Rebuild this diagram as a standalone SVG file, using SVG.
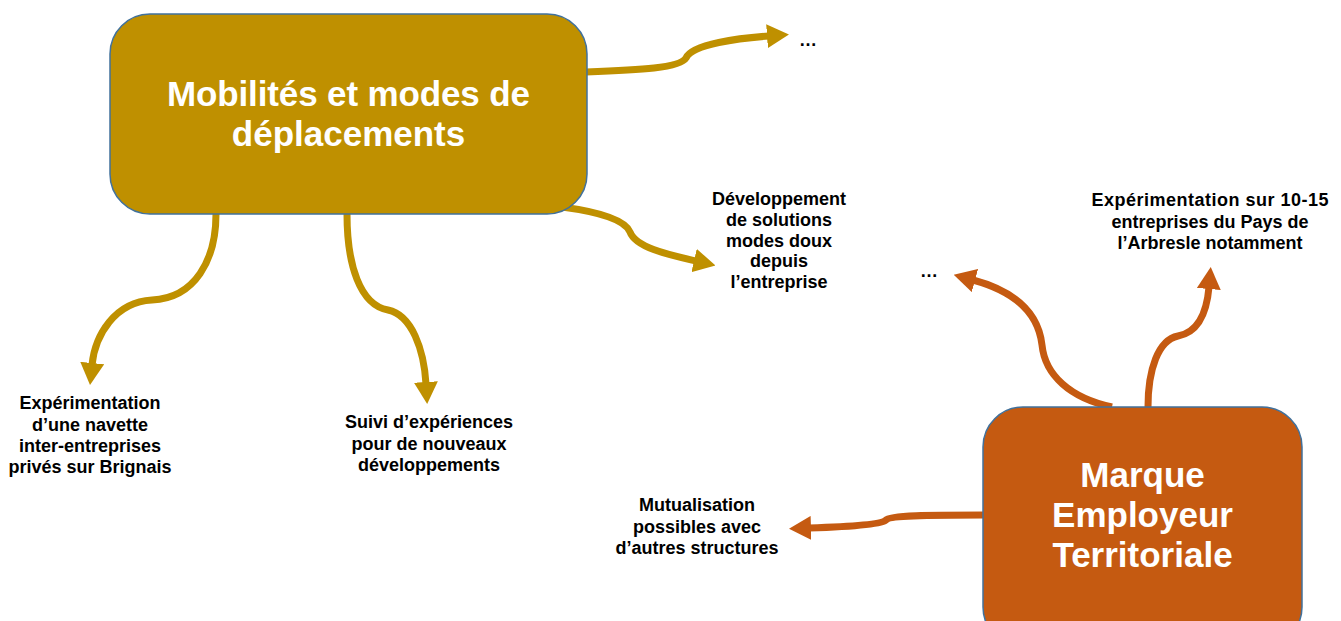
<svg xmlns="http://www.w3.org/2000/svg" width="1341" height="621" viewBox="0 0 1341 621">
<style>
.box{stroke:#41719C;stroke-width:1.5}
.t1{font-family:"Liberation Sans",Arial,sans-serif;font-weight:bold;font-size:35px;fill:#fff;text-anchor:middle}
.lb{font-family:"Liberation Sans",Arial,sans-serif;font-weight:bold;font-size:18px;fill:#000;text-anchor:middle}
.cg{fill:none;stroke:#BF9000;stroke-width:7}
.co{fill:none;stroke:#C55A11;stroke-width:7}
</style>
<defs>
<marker id="ag" viewBox="0 0 22 24" refX="2" refY="12" markerWidth="22" markerHeight="24" markerUnits="userSpaceOnUse" orient="auto"><path d="M0,0 L22,12 L0,24 z" fill="#BF9000"/></marker>
<marker id="ao" viewBox="0 0 22 24" refX="2" refY="12" markerWidth="22" markerHeight="24" markerUnits="userSpaceOnUse" orient="auto"><path d="M0,0 L22,12 L0,24 z" fill="#C55A11"/></marker>
</defs>
<rect width="1341" height="621" fill="#fff"/>
<g id="connectors">
<path class="cg" marker-end="url(#ag)" d="M 586 72 C 640 70, 680 68, 686 58 C 692 44, 740 38, 769 36"/>
<path class="cg" marker-end="url(#ag)" d="M 562 207 C 600 212, 625 220, 630 232 C 636 248, 670 255, 696 261"/>
<path class="cg" marker-end="url(#ag)" d="M 216 214 C 216 260, 195 298, 152 300 C 115 302, 95 335, 92 365"/>
<path class="cg" marker-end="url(#ag)" d="M 347 214 C 347 265, 360 305, 388 310 C 412 315, 424 350, 426 384"/>
<path class="co" marker-end="url(#ao)" d="M 1112 407 C 1070 398, 1045 375, 1042 345 C 1038 310, 1010 290, 973 280"/>
<path class="co" marker-end="url(#ao)" d="M 1148 407 C 1148 370, 1158 340, 1178 336 C 1200 332, 1207 310, 1209 287"/>
<path class="co" marker-end="url(#ao)" d="M 983 515 C 930 515, 890 515, 886 520 C 882 525, 840 527, 809 528"/>
</g>
<g id="node-mobilites">
<rect class="box" x="110" y="14" width="477" height="200" rx="40" fill="#BF9000"/>
<text class="t1" x="348.5" y="106" textLength="363" lengthAdjust="spacing">Mobilités et modes de</text>
<text class="t1" x="348.5" y="146">déplacements</text>
</g>
<g id="node-marque">
<rect class="box" x="983" y="407" width="319" height="240" rx="40" fill="#C55A11"/>
<text class="t1" x="1142.5" y="487">Marque</text>
<text class="t1" x="1142.5" y="527">Employeur</text>
<text class="t1" x="1142.5" y="567">Territoriale</text>
</g>
<g id="label-dots1"><text class="lb" x="808" y="46">…</text></g>
<g id="label-developpement">
<text class="lb" x="779" y="205">Développement</text>
<text class="lb" x="779" y="226">de solutions</text>
<text class="lb" x="779" y="247">modes doux</text>
<text class="lb" x="779" y="267">depuis</text>
<text class="lb" x="779" y="288">l’entreprise</text>
</g>
<g id="label-navette">
<text class="lb" x="90" y="409">Expérimentation</text>
<text class="lb" x="90" y="431">d’une navette</text>
<text class="lb" x="90" y="452">inter-entreprises</text>
<text class="lb" x="90" y="473">privés sur Brignais</text>
</g>
<g id="label-suivi">
<text class="lb" x="429" y="428">Suivi d’expériences</text>
<text class="lb" x="429" y="450">pour de nouveaux</text>
<text class="lb" x="429" y="471">développements</text>
</g>
<g id="label-dots2"><text class="lb" x="929" y="277">…</text></g>
<g id="label-experimentation-arbresle">
<text class="lb" x="1210" y="206" textLength="237" lengthAdjust="spacing">Expérimentation sur 10-15</text>
<text class="lb" x="1210" y="228">entreprises du Pays de</text>
<text class="lb" x="1210" y="249">l’Arbresle notamment</text>
</g>
<g id="label-mutualisation">
<text class="lb" x="697" y="511">Mutualisation</text>
<text class="lb" x="697" y="533">possibles avec</text>
<text class="lb" x="697" y="554">d’autres structures</text>
</g>
</svg>
